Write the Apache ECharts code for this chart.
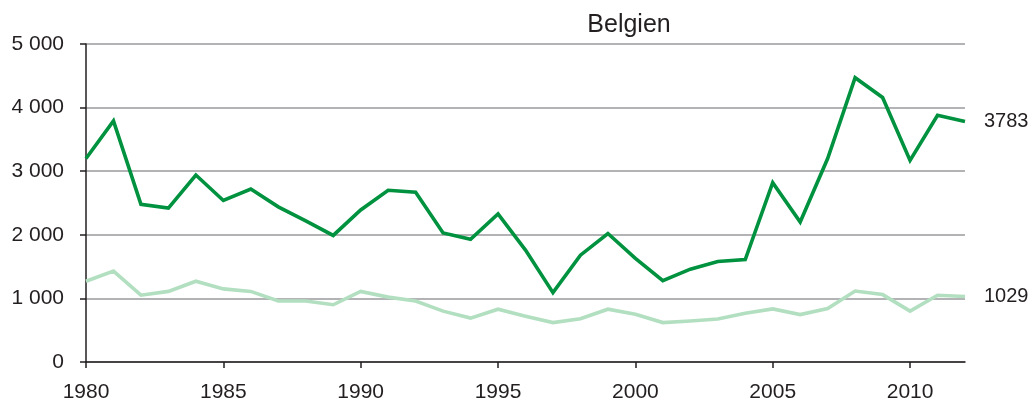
<!DOCTYPE html>
<html>
<head>
<meta charset="utf-8">
<script src="https://cdn.jsdelivr.net/npm/echarts@6/dist/echarts.min.js"></script>
<style>html,body{margin:0;padding:0;background:#fff}#c{width:1034px;height:410px}</style>
</head>
<body>
<div id="c"></div>
<script>
const title = 'Belgien';
const years = [];
for (let y = 1980; y <= 2012; y++) years.push(String(y));
const darkSeries = [3200,3790,2480,2420,2940,2540,2720,2440,2220,1990,2390,2700,2670,2030,1930,2330,1760,1090,1680,2020,1630,1280,1460,1580,1610,2820,2200,3200,4470,4160,3170,3880,3783];
const lightSeries = [1270,1430,1050,1110,1270,1150,1110,960,960,900,1110,1020,960,800,690,830,720,620,680,830,750,620,645,675,765,835,745,840,1115,1060,800,1050,1029];
const yTickLabels = ['0','1 000','2 000','3 000','4 000','5 000'];

const chart = echarts.init(document.getElementById('c'), null, {renderer: 'canvas'});
const font = 'Liberation Sans, Arial, sans-serif';
function lineSeries(data, color) {
  return {
    type: 'line', data: data, symbol: 'none', smooth: false,
    lineStyle: {color: color, width: 3.6, join: 'miter'},
    itemStyle: {color: color},
    endLabel: {show: true, distance: 19, color: '#231f20', fontSize: 20, fontFamily: font,
      formatter: p => String(p.value)},
    z: 3
  };
}
chart.setOption({
  animation: false,
  title: {text: title, left: 624, top: 8, textAlign: 'center',
    textStyle: {fontSize: 25, fontWeight: 'normal', color: '#231f20', fontFamily: font}},
  grid: {left: 86, right: 69, top: 44, bottom: 48, containLabel: false},
  xAxis: {
    type: 'category', data: years, boundaryGap: false,
    axisLine: {lineStyle: {color: '#231f20', width: 1.5}},
    axisTick: {show: true, length: 6, lineStyle: {color: '#231f20', width: 1.5}, interval: (i) => i % 5 === 0},
    axisLabel: {interval: (i) => i % 5 === 0, color: '#231f20', fontSize: 21, fontFamily: font, margin: 20},
    splitLine: {show: false}
  },
  yAxis: {
    type: 'value', min: 0, max: 5000, interval: 1000,
    axisLine: {show: true, lineStyle: {color: '#231f20', width: 1.5}},
    axisTick: {show: true, length: 6, lineStyle: {color: '#231f20', width: 1.5}},
    axisLabel: {color: '#231f20', fontSize: 21, fontFamily: font, margin: 22,
      formatter: v => yTickLabels[Math.round(v / 1000)]},
    splitLine: {show: true, lineStyle: {color: '#9a9a9e', width: 1.5}}
  },
  series: [lineSeries(lightSeries, '#b3dfc1'), lineSeries(darkSeries, '#00923f')]
});
</script>
</body>
</html>
